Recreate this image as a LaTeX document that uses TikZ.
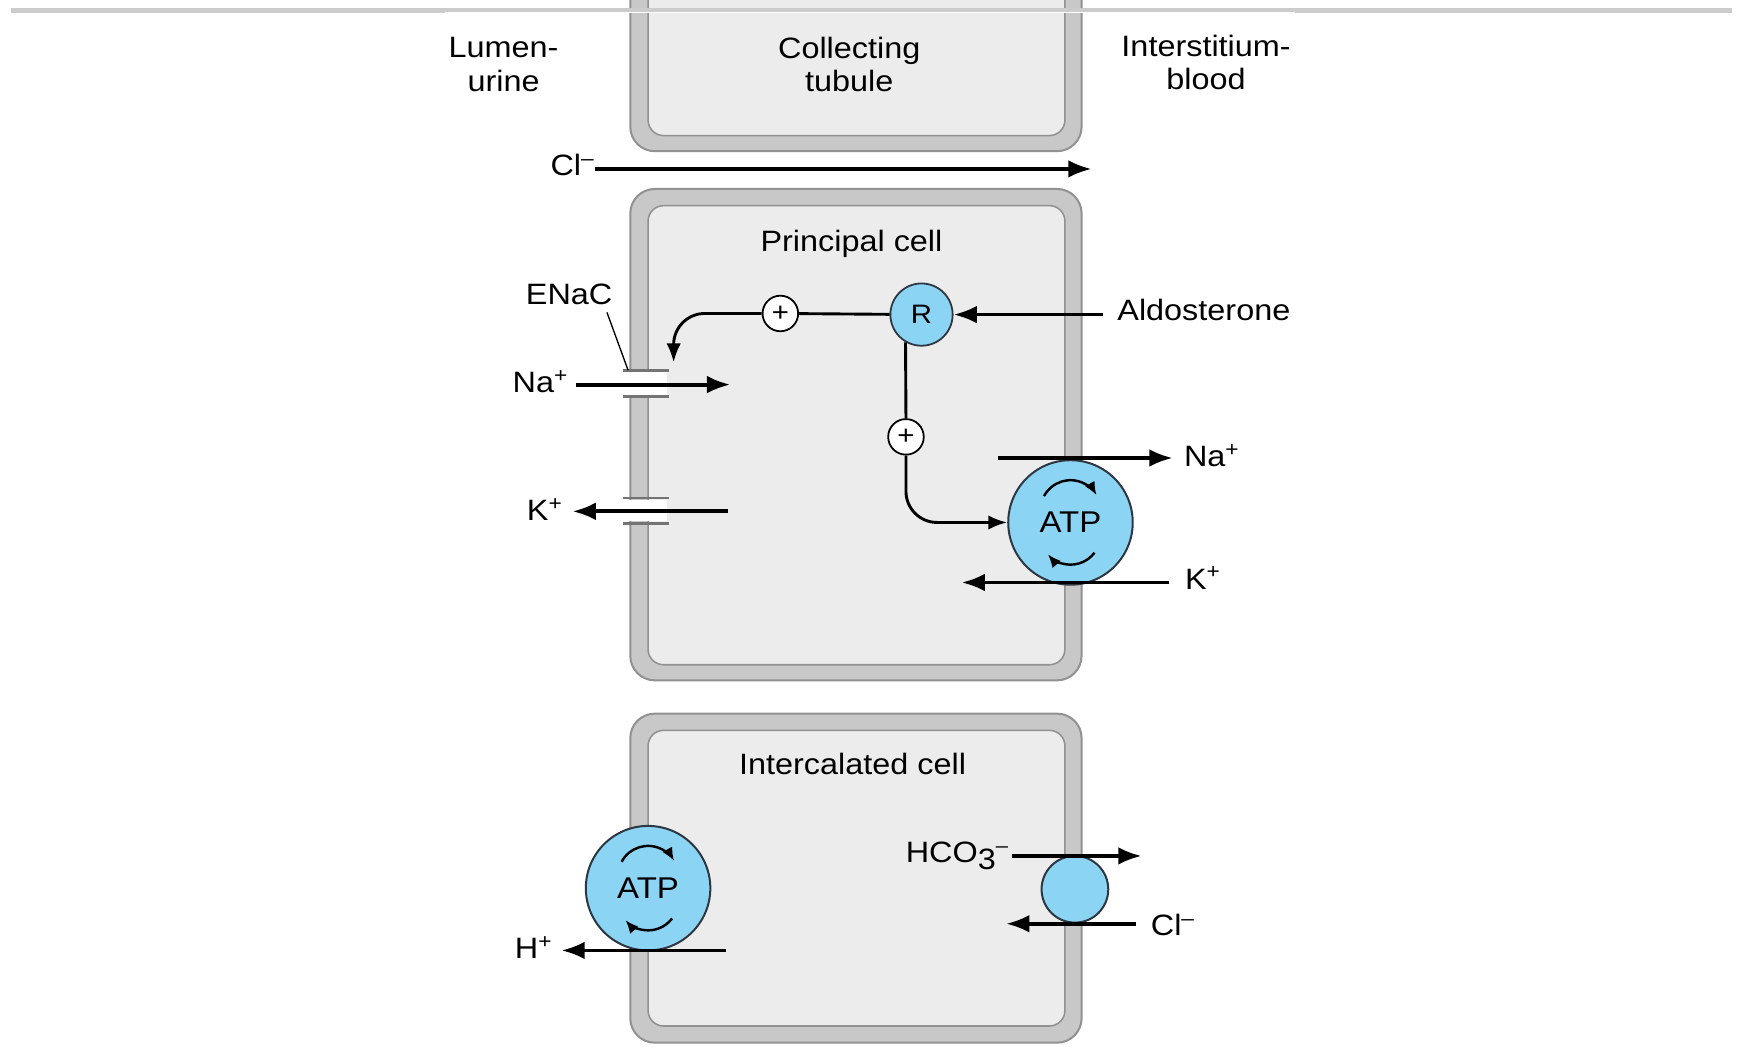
\documentclass[tikz,border=0pt]{standalone}
\usepackage{fontspec}
\setmainfont[FakeStretch=1.1]{Liberation Sans}
\usetikzlibrary{arrows.meta,shapes.geometric}
\definecolor{pumpblue}{RGB}{140,212,244}
\definecolor{pumpedge}{RGB}{45,55,65}
\definecolor{memband}{RGB}{200,200,200}
\definecolor{memedge}{RGB}{145,145,145}
\definecolor{cellfill}{RGB}{236,236,236}
\definecolor{topline}{RGB}{204,204,204}
\tikzset{
 lbl/.style={font=\fontsize{26.5}{30}\selectfont, inner sep=0pt, align=center},
 flux/.style={line width=3.4pt, -{Latex[length=21pt,width=16pt]}},
 reg/.style={line width=2.6pt},
 regarrow/.style={line width=2.6pt, -{Latex[length=17pt,width=13pt]}},
 plusnode/.style={circle, draw=black, fill=white, line width=1.6pt, minimum size=32pt, inner sep=0pt, font=\fontsize{24}{24}\selectfont},
 recep/.style={circle, draw=pumpedge, fill=pumpblue, line width=1.6pt, minimum size=56pt, inner sep=0pt, font=\fontsize{24}{24}\selectfont},
 pump/.style={ellipse, draw=pumpedge, fill=pumpblue, line width=1.8pt, minimum width=112pt, minimum height=112pt, inner sep=0pt, font=\fontsize{27}{27}\selectfont},
 rot/.style={line width=2.2pt, -{Latex[length=12pt,width=10pt]}},
 chanbar/.style={draw=memedge!80!black, line width=2.5pt},
 wallout/.style={fill=memband, draw=memedge, line width=1.8pt, rounded corners=22pt},
 wallin/.style={fill=cellfill, draw=memedge, line width=1.4pt, rounded corners=14pt},
}
\begin{document}
\begin{tikzpicture}[x=1pt,y=1pt]
\useasboundingbox (0,0) rectangle (1568,-952);
\fill[white] (0,0) rectangle (1568,-952);
\begin{scope}
\clip (0,0) rectangle (1568,-952);
% cells
\draw[wallout] (567,30) rectangle (973,-136);
\draw[wallin] (583,30) rectangle (958,-122);
\draw[wallout] (567,-170) rectangle (973,-612);
\draw[wallin] (583,-185) rectangle (958,-598);
\draw[wallout] (567,-642) rectangle (973,-938);
\draw[wallin] (583,-657) rectangle (958,-923);
\end{scope}
% top rule
\draw[topline, line width=4.5pt] (10,-9.5) -- (1558,-9.5);
\fill[white] (400,-10.5) rectangle (1165,-12);
% channels
\fill[white] (562,-335) rectangle (600,-355);
\draw[chanbar] (560,-333) -- (602,-333);
\draw[chanbar] (560,-357) -- (602,-357);
\fill[white] (562,-450) rectangle (600,-469);
\draw[chanbar] (560,-448) -- (602,-448);
\draw[chanbar] (560,-471) -- (602,-471);
% labels
\node[lbl] (lumen) at (453,-58) {Lumen-\\urine};
\node[lbl] (coll) at (764,-58) {Collecting\\tubule};
\node[lbl] (inter) at (1085,-56) {Interstitium-\\blood};
\node[lbl] (pcell) at (766,-219) {Principal cell};
\node[lbl] (icell) at (767,-687) {Intercalated cell};
\node[lbl] (enac) at (512,-265) {ENaC};
\node[lbl] (clTopL) at (515,-148) {Cl\textsuperscript{–}};
\node[lbl] (naL) at (486,-343) {Na\textsuperscript{+}};
\node[lbl] (kL) at (490,-458) {K\textsuperscript{+}};
\node[lbl, anchor=west] (ald) at (1005,-279) {Aldosterone};
\node[lbl] (naR) at (1090,-410) {Na\textsuperscript{+}};
\node[lbl] (kR) at (1082,-520) {K\textsuperscript{+}};
\node[lbl] (hL) at (480,-852) {H\textsuperscript{+}};
\node[lbl, anchor=east] (hco) at (907,-770) {HCO\raisebox{-6pt}{3}\raisebox{9pt}{\fontsize{18}{18}\selectfont –}};
\node[lbl] (clR) at (1055,-832) {Cl\textsuperscript{–}};
% ENaC leader
\coordinate (enacA) at (546,-281);
\coordinate (enacB) at (565,-333);
\draw[line width=1.2pt] (enacA) -- (enacB);
% pumps and receptor
\node[pump] (atpP) at (963,-470) {ATP};
\node[pump] (atpI) at (583,-799) {ATP};
\node[ellipse, draw=pumpedge, fill=pumpblue, line width=1.8pt, minimum width=60pt, minimum height=60pt, inner sep=0pt] (exch) at (967,-800) {};
\node[recep] (R) at (829,-283) {R};
\node[plusnode] (p1) at (702,-282) {+};
\node[plusnode] (p2) at (815,-393) {+};
% rotation arrows
\foreach \pp in {atpP,atpI}{
 \draw[rot] ([shift={(-23.8,23.7)}]\pp.center) arc[start angle=152,end angle=30,radius=27pt];
 \draw[rot] ([shift={(21.6,-27.2)}]\pp.center) arc[start angle=-37,end angle=-139,radius=27pt];
}
% regulation
\coordinate (enacTip) at (606,-326);
\coordinate (aldS) at (992,-283);
\draw[reg] (R) -- (p1);
\draw[regarrow, rounded corners=28pt] (p1.west) -| (enacTip);
\draw[reg] (R.240) -- (p2.north);
\draw[regarrow, rounded corners=28pt] (p2.south) |- (atpP.west);
\draw[flux] (aldS) -- (R.east);
% fluxes
\coordinate (clTs) at (535,-152); \coordinate (clTe) at (982,-152);
\draw[flux] (clTs) -- (clTe);
\coordinate (naLs) at (518,-346); \coordinate (naLe) at (657,-346);
\draw[flux] (naLs) -- (naLe);
\coordinate (kLs) at (655,-460); \coordinate (kLe) at (515,-460);
\draw[flux] (kLs) -- (kLe);
\coordinate (naRs) at (898,-412); \coordinate (naRe) at (1055,-412);
\draw[flux] (naRs) -- (naRe);
\coordinate (kRs) at (1052,-524); \coordinate (kRe) at (865,-524);
\draw[flux] (kRs) -- (kRe);
\coordinate (hs) at (653,-855); \coordinate (he) at (505,-855);
\draw[flux] (hs) -- (he);
\coordinate (hcs) at (910,-770); \coordinate (hce) at (1027,-770);
\draw[flux] (hcs) -- (hce);
\coordinate (cls) at (1022,-831); \coordinate (cle) at (905,-831);
\draw[flux] (cls) -- (cle);
\end{tikzpicture}
\end{document}
